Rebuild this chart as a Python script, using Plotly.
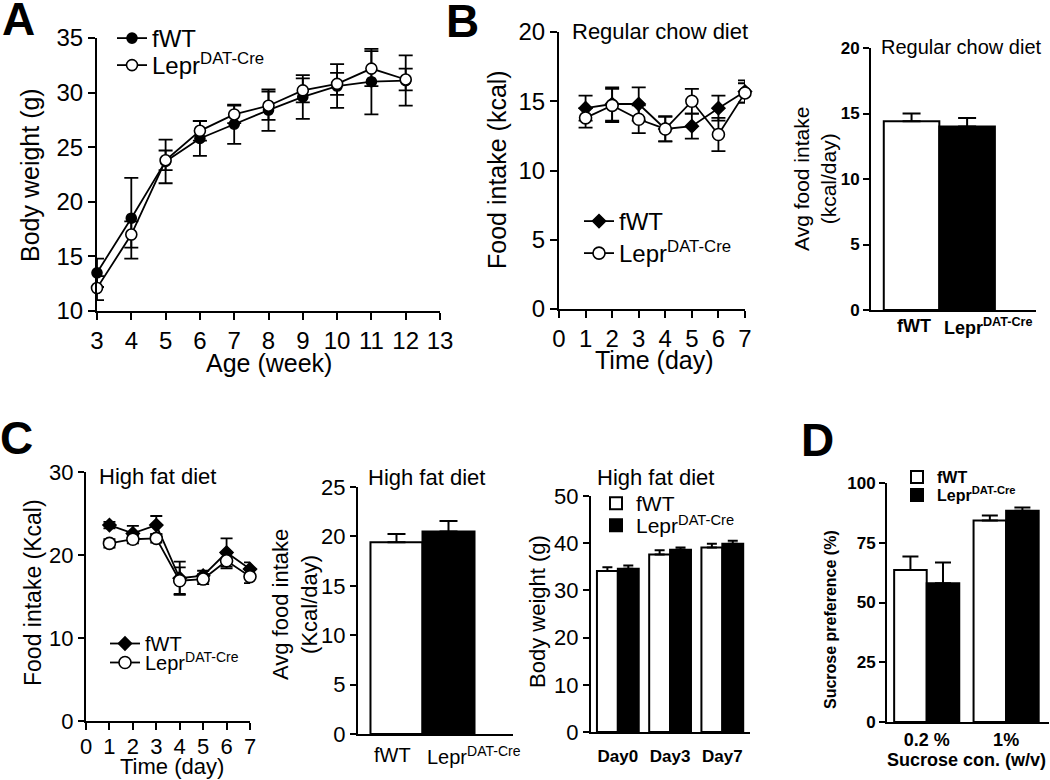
import plotly.graph_objects as go

W, H = 1050, 780
FONT = "Liberation Sans, Arial, sans-serif"

# ---------------- data ----------------
# Panel A: body weight vs age
a_weeks = [3, 4, 5, 6, 7, 8, 9, 10, 11, 12]
a_fwt = [13.5, 18.5, 23.7, 25.8, 27.1, 28.4, 29.6, 30.6, 31.0, 31.1]
a_fwt_err = [1.3, 3.7, 2.0, 1.6, 1.8, 1.9, 2.0, 2.0, 3.0, 2.3]
a_lepr = [12.1, 17.0, 23.8, 26.5, 28.0, 28.8, 30.2, 30.8, 32.2, 31.2]
a_lepr_err = [1.1, 1.2, 0.9, 0.9, 0.8, 1.3, 1.1, 1.0, 1.6, 1.0]

# Panel B: regular chow diet food intake
b_days = [1, 2, 3, 4, 5, 6, 7]
b_fwt = [14.5, 14.8, 14.8, 13.0, 13.2, 14.5, 15.7]
b_fwt_err = [0.9, 1.2, 1.2, 0.9, 0.9, 0.9, 0.8]
b_lepr = [13.8, 14.7, 13.7, 13.0, 15.0, 12.6, 15.6]
b_lepr_err = [0.7, 1.2, 1.0, 0.9, 0.9, 1.2, 0.7]

groups = ["fWT", "Lepr<sup>DAT-Cre</sup>"]
b_avg = [14.4, 14.0]
b_avg_err = [0.6, 0.65]

# Panel C: high fat diet
c_days = [1, 2, 3, 4, 5, 6, 7]
c_fwt = [23.6, 22.6, 23.6, 17.2, 17.5, 20.3, 18.3]
c_fwt_err = [0.4, 0.9, 1.1, 2.0, 0.6, 1.7, 0.8]
c_lepr = [21.4, 21.9, 22.0, 16.9, 17.1, 19.3, 17.4]
c_lepr_err = [0.5, 0.5, 0.5, 1.6, 0.6, 0.9, 0.8]

c_avg = [19.4, 20.5]
c_avg_err = [0.85, 1.05]

c_bw_days = ["Day0", "Day3", "Day7"]
c_bw_fwt = [34.1, 37.6, 39.1]
c_bw_fwt_err = [0.8, 0.9, 0.8]
c_bw_lepr = [34.6, 38.6, 39.9]
c_bw_lepr_err = [0.7, 0.5, 0.6]

# Panel D: sucrose preference
d_conc = ["0.2 %", "1%"]
d_fwt = [63.6, 84.3]
d_fwt_err = [5.6, 2.1]
d_lepr = [58.1, 88.4]
d_lepr_err = [8.6, 1.4]


# ---------------- helpers ----------------
def px_x(v):
    return v / W


def px_y(v):
    return 1 - v / H


def line_trace(x, y, err, name, symbol, fill, size, xa, ya, legend, capw):
    return go.Scatter(
        x=x, y=y, name=name, mode="lines+markers", xaxis=xa, yaxis=ya, legend=legend,
        line=dict(color="black", width=1.8),
        marker=dict(symbol=symbol, size=size, color=fill, line=dict(color="black", width=1.6)),
        error_y=dict(type="data", array=err, visible=True, color="black", thickness=1.8, width=capw),
        cliponaxis=False,
    )


def bar_trace(x, y, err, name, color, xa, ya, offset, width, legend=None, showlegend=False, capw=8):
    kw = dict(legend=legend) if legend else {}
    return go.Bar(
        x=x, y=y, name=name, xaxis=xa, yaxis=ya, offset=offset, width=width,
        marker=dict(color=color, line=dict(color="black", width=2)),
        error_y=dict(type="data", symmetric=False, array=err, arrayminus=[0] * len(y),
                     color="black", thickness=2, width=capw),
        showlegend=showlegend, **kw,
    )


fig = go.Figure()

# Panel A
fig.add_trace(line_trace(a_weeks, a_fwt, a_fwt_err, "fWT", "circle", "black", 10, "x", "y", "legend", 7))
fig.add_trace(line_trace(a_weeks, a_lepr, a_lepr_err, "Lepr<sup>DAT-Cre</sup>", "circle", "white", 11, "x", "y", "legend6", 7))

# Panel B left
fig.add_trace(line_trace(b_days, b_fwt, b_fwt_err, "fWT", "diamond", "black", 10, "x2", "y2", "legend2", 7))
fig.add_trace(line_trace(b_days, b_lepr, b_lepr_err, "Lepr<sup>DAT-Cre</sup>", "circle", "white", 12, "x2", "y2", "legend7", 7))

# Panel B right
fig.add_trace(bar_trace(groups, b_avg, b_avg_err, "avg", ["white", "black"], "x3", "y3", -0.5, 1, capw=9))

# Panel C left
fig.add_trace(line_trace(c_days, c_fwt, c_fwt_err, "fWT", "diamond", "black", 10, "x4", "y4", "legend3", 6))
fig.add_trace(line_trace(c_days, c_lepr, c_lepr_err, "Lepr<sup>DAT-Cre</sup>", "circle", "white", 12, "x4", "y4", "legend8", 6))

# Panel C middle
fig.add_trace(bar_trace(groups, c_avg, c_avg_err, "avg", ["white", "black"], "x5", "y5", -0.5, 1, capw=9))

# Panel C right
fig.add_trace(bar_trace(c_bw_days, c_bw_fwt, c_bw_fwt_err, "fWT", "white", "x6", "y6", -0.4, 0.4,
                        legend="legend4", showlegend=True, capw=5))
fig.add_trace(bar_trace(c_bw_days, c_bw_lepr, c_bw_lepr_err, "Lepr<sup>DAT-Cre</sup>", "black", "x6", "y6", 0, 0.4,
                        legend="legend9", showlegend=True, capw=5))

# Panel D
fig.add_trace(bar_trace(d_conc, d_fwt, d_fwt_err, "fWT", "white", "x7", "y7", -0.41, 0.41,
                        legend="legend5", showlegend=True, capw=8))
fig.add_trace(bar_trace(d_conc, d_lepr, d_lepr_err, "Lepr<sup>DAT-Cre</sup>", "black", "x7", "y7", 0, 0.41,
                        legend="legend10", showlegend=True, capw=8))


def ax(dom, anchor, rng, size=24, bold=False, **kw):
    d = dict(domain=dom, anchor=anchor, range=rng, showline=True, linecolor="black", linewidth=2,
             ticks="outside", tickcolor="black", tickwidth=2, ticklen=7, showgrid=False, zeroline=False,
             tickfont=dict(family=FONT, size=size, color="black", weight="bold" if bold else "normal"),
             fixedrange=True, automargin=False, tickangle=0)
    d.update(kw)
    return d


def leg(x, y, size, bold=False):
    return dict(x=px_x(x), y=px_y(y), xanchor="left", yanchor="top", bgcolor="rgba(0,0,0,0)",
                font=dict(family=FONT, size=size, color="black", weight="bold" if bold else "normal"),
                tracegroupgap=0, borderwidth=0)


layout = dict(
    width=W, height=H, margin=dict(l=0, r=0, t=0, b=0, autoexpand=False),
    paper_bgcolor="white", plot_bgcolor="white",
    font=dict(family=FONT, color="black"),
    barmode="overlay", showlegend=True,
    # A
    xaxis=ax([px_x(97), px_x(440)], "y", [3, 13], 24, tickmode="linear", tick0=3, dtick=1),
    yaxis=ax([px_y(311), px_y(38)], "x", [10, 35], 24, tickmode="linear", tick0=10, dtick=5),
    # B left
    xaxis2=ax([px_x(559), px_x(745)], "y2", [0, 7], 24, tickmode="linear", tick0=0, dtick=1),
    yaxis2=ax([px_y(309), px_y(32)], "x2", [0, 20], 24, tickmode="linear", tick0=0, dtick=5),
    # B right
    xaxis3=ax([px_x(871), px_x(1036)], "y3", [-0.73, 2.24], 18, bold=True, ticks="", type="category",
              showticklabels=False),
    yaxis3=ax([px_y(310), px_y(48)], "x3", [0, 20], 17, bold=True, tickmode="linear", tick0=0, dtick=5, ticklen=6),
    # C left
    xaxis4=ax([px_x(86), px_x(250)], "y4", [0, 7], 22, tickmode="linear", tick0=0, dtick=1, ticklen=7,
              ticklabelstandoff=-2),
    yaxis4=ax([px_y(721), px_y(472)], "x4", [0, 30], 22, tickmode="linear", tick0=0, dtick=10, ticklen=6),
    # C middle
    xaxis5=ax([px_x(358), px_x(513)], "y5", [-0.74, 2.24], 20, ticks="", type="category",
              showticklabels=False),
    yaxis5=ax([px_y(734), px_y(487)], "x5", [0, 25], 22, tickmode="linear", tick0=0, dtick=5, ticklen=6),
    # C right
    xaxis6=ax([px_x(591), px_x(750)], "y6", [-0.514, 2.53], 17, bold=True, ticks="", type="category",
              ticklabelstandoff=8),
    yaxis6=ax([px_y(732), px_y(496)], "x6", [0, 50], 22, tickmode="linear", tick0=0, dtick=10, ticklen=6),
    # D
    xaxis7=ax([px_x(887), px_x(1049)], "y7", [-0.5, 1.54], 18, bold=True, ticks="", type="category",
              ticklabelstandoff=0),
    yaxis7=ax([px_y(722), px_y(483)], "x7", [0, 100], 17, bold=True, tickmode="linear", tick0=0, dtick=25, ticklen=6),
    legend=leg(112, 16, 24),
    legend6=leg(112, 43, 24),
    legend2=leg(579, 199, 24),
    legend7=leg(579, 231, 24),
    legend3=leg(105, 624, 20),
    legend8=leg(105, 643, 20),
    legend4=leg(596, 483, 21),
    legend9=leg(596, 505, 21),
    legend5=leg(897, 460, 16, bold=True),
    legend10=leg(897, 478, 16, bold=True),
)
fig.update_layout(**layout)


def note(text, x, y, size, bold=False, angle=0, xanchor="center", yanchor="middle"):
    fig.add_annotation(text=text, x=px_x(x), y=px_y(y), xref="paper", yref="paper", showarrow=False,
                       textangle=angle, xanchor=xanchor, yanchor=yanchor,
                       font=dict(family=FONT, size=size, color="black", weight="bold" if bold else "normal"))


def cat_label(cat, xref, yref, size, bold, xshift, yshift):
    fig.add_annotation(text=cat, x=cat, y=0, xref=xref, yref=yref, showarrow=False,
                       xanchor="center", yanchor="middle", xshift=xshift, yshift=yshift,
                       font=dict(family=FONT, size=size, color="black", weight="bold" if bold else "normal"))


# category labels under the two-bar panels (superscript hangs to the right)
cat_label(groups[0], "x3", "y3", 18, True, 2, -16)
cat_label(groups[1], "x3", "y3", 18, True, 21, -16)
cat_label(groups[0], "x5", "y5", 20, False, -4, -21)
cat_label(groups[1], "x5", "y5", 20, False, 25, -21)

# panel letters
note("A", 18, 19, 46, bold=True)
note("B", 462, 21, 46, bold=True)
note("C", 16, 438, 46, bold=True)
note("D", 817, 440, 46, bold=True)

# A titles
note("Body weight (g)", 30, 175, 25, angle=-90)
note("Age (week)", 269, 363, 25)

# B titles
note("Regular chow diet", 570, 32, 22, xanchor="left")
note("Food intake (kcal)", 497, 170, 25, angle=-90)
note("Time (day)", 654, 360, 25)
note("Regular chow diet", 879, 47, 20, xanchor="left")
note("Avg food intake<br>(kcal/day)", 815, 179, 21, angle=-90)

# C titles
note("High fat diet", 97, 476, 22, xanchor="left")
note("Food intake (Kcal)", 33, 593, 23, angle=-90)
note("Time (day)", 172, 766, 22)
note("High fat diet", 366, 477, 22, xanchor="left")
note("Avg food intake<br>(Kcal/day)", 295, 605, 22, angle=-90)
note("High fat diet", 595, 477, 22, xanchor="left")
note("Body weight (g)", 537, 612, 22, angle=-90)

# D titles
note("Sucrose preference (%)", 830, 620, 16, bold=True, angle=-90)
note("Sucrose con. (w/v)", 966, 760, 18, bold=True)

fig.write_html("out.html", config={"displayModeBar": False},
               post_script="document.body.style.margin='0px';document.body.style.padding='0px';")
